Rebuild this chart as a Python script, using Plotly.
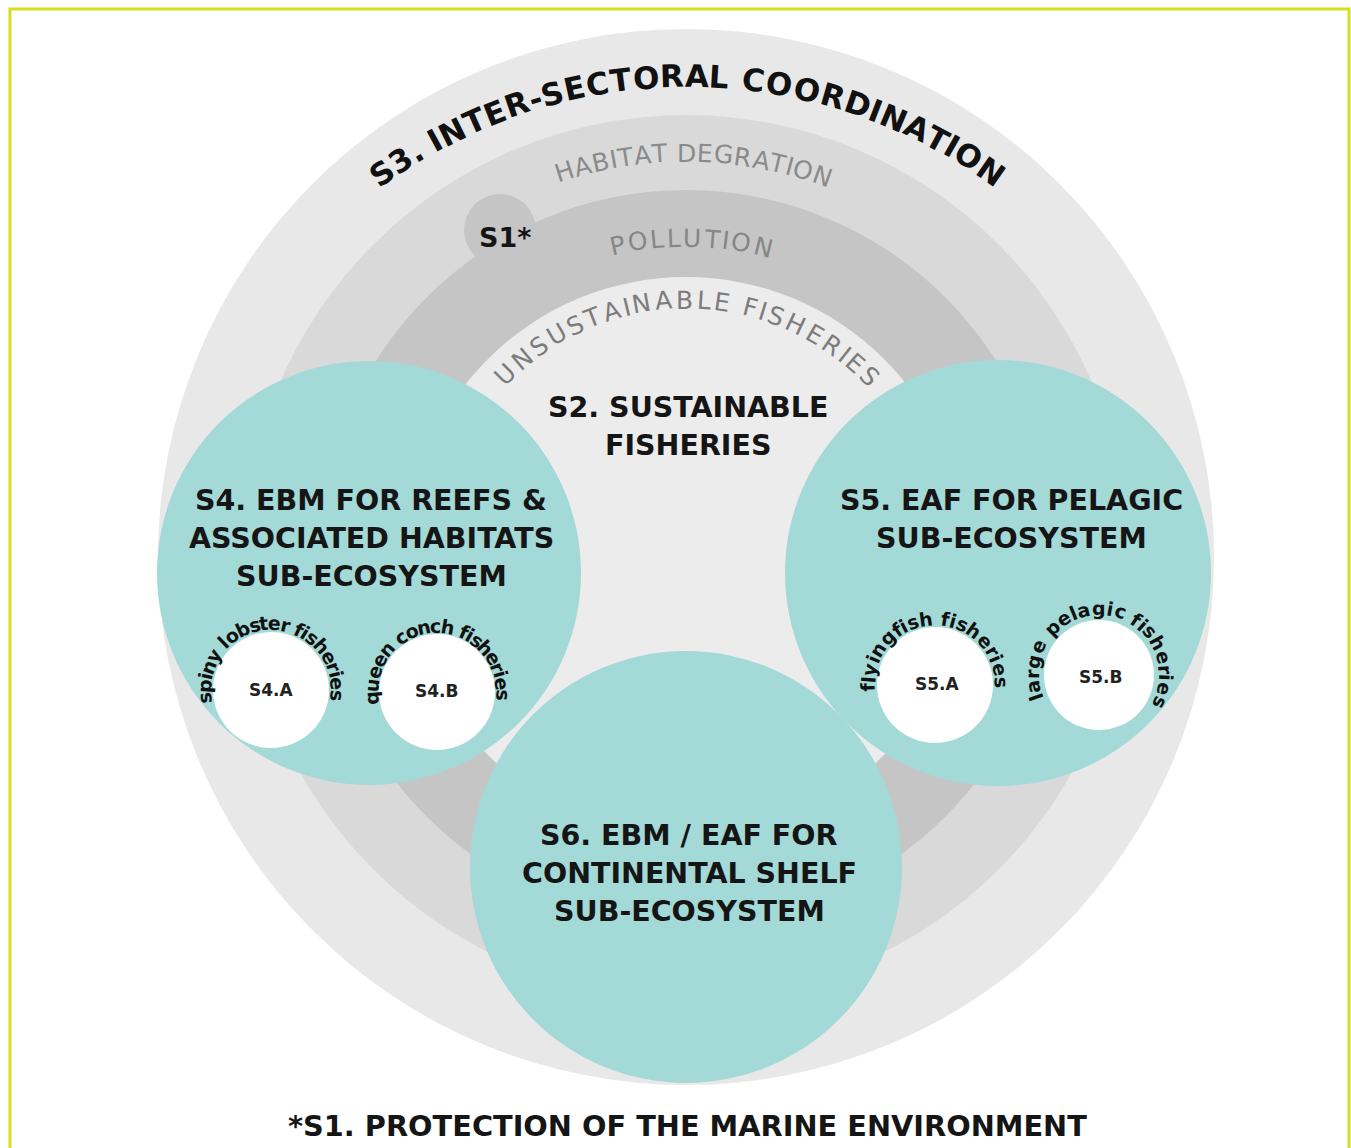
import math
import plotly.graph_objects as go

CANVAS_W, CANVAS_H = 1351, 1148

# ---------------- data: labels ----------------
ring_labels = ["S3. INTER-SECTORAL COORDINATION", "HABITAT DEGRATION",
               "POLLUTION", "UNSUSTAINABLE FISHERIES"]
centre_label = ["S2. SUSTAINABLE", "FISHERIES"]
eco_lines = [["S4. EBM FOR REEFS &", "ASSOCIATED HABITATS", "SUB-ECOSYSTEM"],
             ["S5. EAF FOR PELAGIC", "SUB-ECOSYSTEM"],
             ["S6. EBM / EAF FOR", "CONTINENTAL SHELF", "SUB-ECOSYSTEM"]]
fish_codes = ["S4.A", "S4.B", "S5.A", "S5.B"]
fish_names = ["spiny lobster fisheries", "queen conch fisheries",
              "flyingfish fisheries", "large pelagic fisheries"]
s1_tag = "S1*"
footnote = "*S1. PROTECTION OF THE MARINE ENVIRONMENT"

# ---------------- geometry ----------------
ring_cx, ring_cy = 686, 557
ring_radii = [528, 442, 367, 280]
ring_fill = ["#e8e8e8", "#d9d9d9", "#c5c5c5", "#ececec"]

label_cx = [688, 686, 686, 686]
label_cy = [605, 557, 557, 557]
label_r = [529, 404, 319, 257]
label_a0 = [125.3, 107.5, 102.4, 134.7]
label_a1 = [55.0, 70.2, 76.0, 44.5]
label_color = ["#111111", "#8a8a8a", "#868686", "#7c7c7c"]
label_size = [31, 25, 25, 25]
label_bold = [True, False, False, False]

bump_x, bump_y, bump_r = 500, 230, 36
s1_x, s1_y = 505, 237

eco_cx = [369, 998, 686]
eco_cy = [573, 573, 867]
eco_r = [212, 213, 216]
eco_text_x = [371, 1011, 689]
eco_text_y = [500, 500, 835]
line_gap = 38
centre_x, centre_y = 688, 407

fish_cx = [271, 437, 935, 1099]
fish_cy = [690, 692, 685, 675]
fish_r = [58, 58, 58, 55]
fish_code_x = [271, 437, 937, 1101]
fish_code_y = [690, 691, 684, 677]
fish_arc_r = [67, 66, 67, 67]
fish_a0 = [187, 185, 182, 199]
fish_a1 = [-5, -3, 2, -24]

foot_x, foot_y = 687, 1126

TEAL = "#a3d9d7"
FONT = "DejaVu Sans"

# approximate relative glyph advances (DejaVu Sans)
WID = {}
WID.update(dict(zip("ABCDEFGHIJKLMNOPQRSTUVWXYZ",
                    [.68, .69, .70, .77, .63, .58, .78, .75, .30, .30, .66, .56, .86,
                     .75, .79, .60, .79, .70, .64, .61, .73, .68, .99, .69, .61, .69])))
WID.update(dict(zip("abcdefghijklmnopqrstuvwxyz",
                    [.61, .64, .55, .64, .62, .35, .64, .63, .28, .28, .58, .28, .97,
                     .63, .61, .64, .64, .41, .52, .39, .63, .59, .82, .59, .59, .53])))
WID.update({" ": .32, ".": .32, "-": .36, "*": .50, "&": .78, "/": .34})
for d in "0123456789":
    WID[d] = .64


def arc_text(text, cx, cy, r, a0, a1, size, color, bold):
    widths = [WID.get(c, .65) for c in text]
    centers = []
    acc = 0.0
    for w in widths:
        centers.append(acc + w / 2)
        acc += w
    span = centers[-1] - centers[0]
    out = []
    for ch, c in zip(text, centers):
        if ch == " ":
            continue
        t = (c - centers[0]) / span
        a = a0 + t * (a1 - a0)
        rad = math.radians(a)
        x = cx + r * math.cos(rad)
        y = cy - r * math.sin(rad)
        out.append(dict(x=x, y=y, xref="x", yref="y", showarrow=False,
                        text=f"<b>{ch}</b>" if bold else ch,
                        textangle=90 - a, xanchor="center", yanchor="middle",
                        font=dict(family=FONT, size=size, color=color)))
    return out


def circle(cx, cy, r, fill):
    return dict(type="circle", xref="x", yref="y", x0=cx - r, x1=cx + r,
                y0=cy - r, y1=cy + r, fillcolor=fill, line=dict(width=0),
                layer="below")


def label(x, y, text, size=28, color="#151515", bold=True):
    return dict(x=x, y=y, xref="x", yref="y", showarrow=False,
                text=f"<b>{text}</b>" if bold else text,
                xanchor="center", yanchor="middle",
                font=dict(family=FONT, size=size, color=color))


shapes = []
for rr, col in zip(ring_radii[:3], ring_fill[:3]):
    shapes.append(circle(ring_cx, ring_cy, rr, col))
    if col == ring_fill[2]:
        shapes.append(circle(bump_x, bump_y, bump_r, col))
shapes.append(circle(ring_cx, ring_cy, ring_radii[3], ring_fill[3]))
for cx, cy, r in zip(eco_cx, eco_cy, eco_r):
    shapes.append(circle(cx, cy, r, TEAL))
for cx, cy, r in zip(fish_cx, fish_cy, fish_r):
    shapes.append(circle(cx, cy, r, "#ffffff"))
# frame
shapes.append(dict(type="rect", xref="x", yref="y", x0=10, x1=1349, y0=9, y1=1160,
                   line=dict(color="#d5df1f", width=3), fillcolor="rgba(0,0,0,0)",
                   layer="above"))

annotations = []
for i, txt in enumerate(ring_labels):
    annotations += arc_text(txt, label_cx[i], label_cy[i], label_r[i], label_a0[i],
                            label_a1[i], label_size[i], label_color[i], label_bold[i])
annotations.append(label(s1_x, s1_y, s1_tag, size=27))
for k, line in enumerate(centre_label):
    annotations.append(label(centre_x, centre_y + k * line_gap, line, size=28.5))
for i, lines in enumerate(eco_lines):
    for k, line in enumerate(lines):
        annotations.append(label(eco_text_x[i], eco_text_y[i] + k * line_gap, line,
                                 size=28.5))
for i, name in enumerate(fish_names):
    annotations += arc_text(name, fish_cx[i], fish_cy[i], fish_arc_r[i], fish_a0[i],
                            fish_a1[i], 19, "#111111", True)
    annotations.append(label(fish_code_x[i], fish_code_y[i], fish_codes[i], size=17,
                             color="#222222"))
annotations.append(label(foot_x, foot_y, footnote, size=28.8))

fig = go.Figure()
fig.add_trace(go.Scatter(x=[0, CANVAS_W], y=[0, CANVAS_H], mode="markers",
                         marker=dict(opacity=0), hoverinfo="skip", showlegend=False))
fig.update_layout(
    width=CANVAS_W, height=CANVAS_H,
    margin=dict(l=0, r=0, t=0, b=0),
    paper_bgcolor="white", plot_bgcolor="white",
    xaxis=dict(range=[0, CANVAS_W], visible=False, fixedrange=True),
    yaxis=dict(range=[CANVAS_H, 0], visible=False, fixedrange=True),
    shapes=shapes, annotations=annotations, showlegend=False,
)
fig.write_html("out.html", config={"displayModeBar": False},
               post_script="document.body.style.margin='0';"
                           "document.body.style.overflow='hidden';")
